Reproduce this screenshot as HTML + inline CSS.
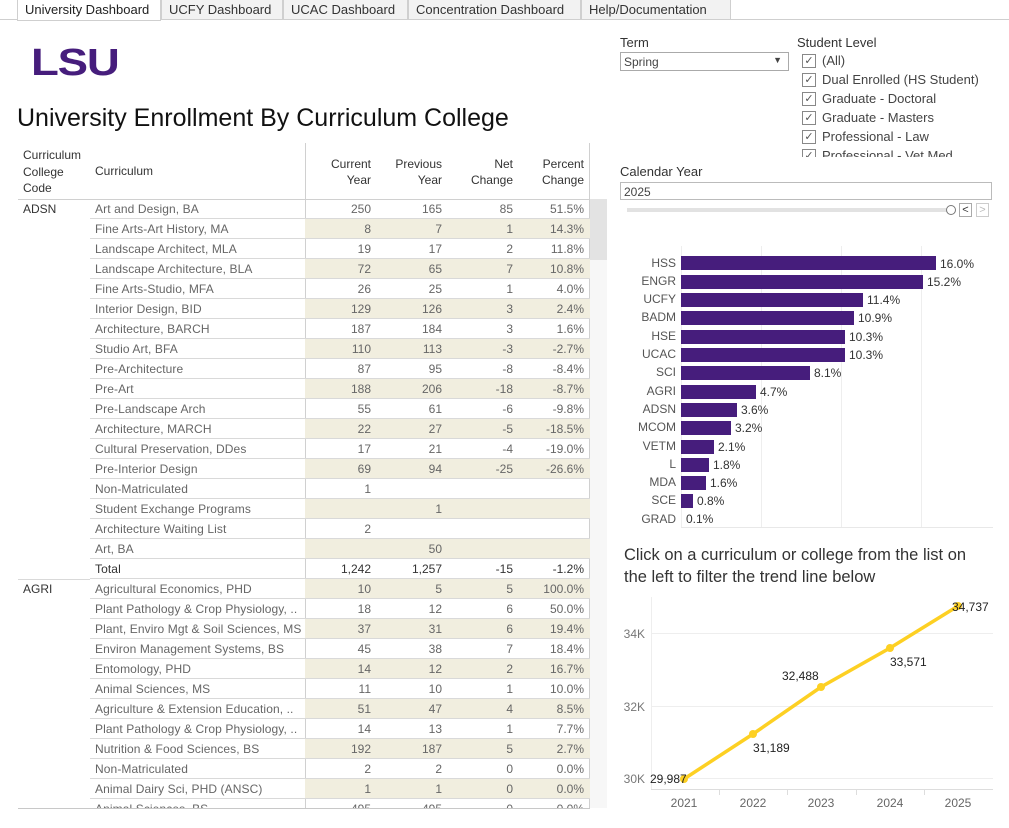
<!DOCTYPE html>
<html><head><meta charset="utf-8"><style>
*{margin:0;padding:0;box-sizing:border-box}
body{width:1009px;height:828px;overflow:hidden;background:#fff;font-family:"Liberation Sans",sans-serif;position:relative;color:#555}
.a{position:absolute;white-space:nowrap}
.tab{position:absolute;top:0;height:20px;border:1px solid #cfcfcf;border-top:none;background:#f2f2f2;font-size:13px;color:#333;padding:2px 0 0 7px}
.row{position:absolute;left:90px;width:500px;height:20px;border-bottom:1px solid #d9d9d9;font-size:12px;color:#666}
.row .sh{position:absolute;left:215px;top:0;width:285px;height:19px;background:#f1eedf}
.row span{position:absolute;top:3px}
.c{left:5px;letter-spacing:0.1px}
.n1{right:219px}.n2{right:148px}.n3{right:77px}.n4{right:6px}
.hd{font-size:12px;color:#333;text-align:right;line-height:16px}
.cb{position:absolute;left:802px;width:14px;height:14px;border:1px solid #888;font-size:11px;line-height:12px;text-align:center;color:#555}
.sl{position:absolute;left:822px;font-size:13px;color:#444}
.bl{position:absolute;font-size:12px;color:#555;text-align:right;width:60px;left:616px}
.bv{position:absolute;font-size:12px;color:#333}
.bar{position:absolute;left:681px;height:14px;background:#461d7c}
</style></head><body>
<div class="a" style="left:0;top:19px;width:1009px;height:1px;background:#cfcfcf"></div>
<div class="tab" style="left:17px;width:144px;background:#fff;height:21px;color:#222">University Dashboard</div>
<div class="tab" style="left:161px;width:122px">UCFY Dashboard</div>
<div class="tab" style="left:283px;width:125px">UCAC Dashboard</div>
<div class="tab" style="left:408px;width:173px">Concentration Dashboard</div>
<div class="tab" style="left:581px;width:150px">Help/Documentation</div>

<div class="a" style="left:31px;top:42px;font-size:38px;font-weight:900;color:#461d7c;letter-spacing:-1px;font-family:'Liberation Sans',sans-serif;transform:scaleX(1.2);transform-origin:left">LSU</div>
<div class="a" style="left:17px;top:104px;font-size:25px;color:#111">University Enrollment By Curriculum College</div>

<!-- table header -->
<div class="a" style="left:23px;top:147px;font-size:12px;color:#333;line-height:16.5px">Curriculum<br>College<br>Code</div>
<div class="a" style="left:95px;top:164px;font-size:12px;color:#333">Curriculum</div>
<div class="a hd" style="right:638px;top:156px">Current<br>Year</div>
<div class="a hd" style="right:567px;top:156px">Previous<br>Year</div>
<div class="a hd" style="right:496px;top:156px">Net<br>Change</div>
<div class="a hd" style="right:425px;top:156px">Percent<br>Change</div>
<div class="a" style="left:305px;top:143px;width:1px;height:665px;background:#d0d0d0"></div>
<div class="a" style="left:589px;top:143px;width:1px;height:665px;background:#d0d0d0"></div>
<div class="a" style="left:18px;top:199px;width:572px;height:1px;background:#d0d0d0"></div>
<div class="a" style="left:590px;top:199px;width:17px;height:61px;background:#e3e3e3"></div>
<div class="a" style="left:590px;top:260px;width:17px;height:548px;background:#f7f7f7"></div>
<div class="a" style="left:23px;top:202px;font-size:12px;color:#333">ADSN</div>
<div class="a" style="left:23px;top:582px;font-size:12px;color:#333">AGRI</div>
<div class="a" style="left:18px;top:579px;width:72px;height:1px;background:#d9d9d9"></div>
<div class="a" style="left:18px;top:808px;width:572px;height:1px;background:#c8c8c8"></div>

<div style="position:absolute;left:0;top:0;width:1009px;height:808px;overflow:hidden">
<div class="row" style="top:199px"><span class="c">Art and Design, BA</span><span class="n1">250</span><span class="n2">165</span><span class="n3">85</span><span class="n4">51.5%</span></div>
<div class="row" style="top:219px"><div class="sh"></div><span class="c">Fine Arts-Art History, MA</span><span class="n1">8</span><span class="n2">7</span><span class="n3">1</span><span class="n4">14.3%</span></div>
<div class="row" style="top:239px"><span class="c">Landscape Architect, MLA</span><span class="n1">19</span><span class="n2">17</span><span class="n3">2</span><span class="n4">11.8%</span></div>
<div class="row" style="top:259px"><div class="sh"></div><span class="c">Landscape Architecture, BLA</span><span class="n1">72</span><span class="n2">65</span><span class="n3">7</span><span class="n4">10.8%</span></div>
<div class="row" style="top:279px"><span class="c">Fine Arts-Studio, MFA</span><span class="n1">26</span><span class="n2">25</span><span class="n3">1</span><span class="n4">4.0%</span></div>
<div class="row" style="top:299px"><div class="sh"></div><span class="c">Interior Design, BID</span><span class="n1">129</span><span class="n2">126</span><span class="n3">3</span><span class="n4">2.4%</span></div>
<div class="row" style="top:319px"><span class="c">Architecture, BARCH</span><span class="n1">187</span><span class="n2">184</span><span class="n3">3</span><span class="n4">1.6%</span></div>
<div class="row" style="top:339px"><div class="sh"></div><span class="c">Studio Art, BFA</span><span class="n1">110</span><span class="n2">113</span><span class="n3">-3</span><span class="n4">-2.7%</span></div>
<div class="row" style="top:359px"><span class="c">Pre-Architecture</span><span class="n1">87</span><span class="n2">95</span><span class="n3">-8</span><span class="n4">-8.4%</span></div>
<div class="row" style="top:379px"><div class="sh"></div><span class="c">Pre-Art</span><span class="n1">188</span><span class="n2">206</span><span class="n3">-18</span><span class="n4">-8.7%</span></div>
<div class="row" style="top:399px"><span class="c">Pre-Landscape Arch</span><span class="n1">55</span><span class="n2">61</span><span class="n3">-6</span><span class="n4">-9.8%</span></div>
<div class="row" style="top:419px"><div class="sh"></div><span class="c">Architecture, MARCH</span><span class="n1">22</span><span class="n2">27</span><span class="n3">-5</span><span class="n4">-18.5%</span></div>
<div class="row" style="top:439px"><span class="c">Cultural Preservation, DDes</span><span class="n1">17</span><span class="n2">21</span><span class="n3">-4</span><span class="n4">-19.0%</span></div>
<div class="row" style="top:459px"><div class="sh"></div><span class="c">Pre-Interior Design</span><span class="n1">69</span><span class="n2">94</span><span class="n3">-25</span><span class="n4">-26.6%</span></div>
<div class="row" style="top:479px"><span class="c">Non-Matriculated</span><span class="n1">1</span></div>
<div class="row" style="top:499px"><div class="sh"></div><span class="c">Student Exchange Programs</span><span class="n2">1</span></div>
<div class="row" style="top:519px"><span class="c">Architecture Waiting List</span><span class="n1">2</span></div>
<div class="row" style="top:539px"><div class="sh"></div><span class="c">Art, BA</span><span class="n2">50</span></div>
<div class="row" style="top:559px;color:#333"><span class="c">Total</span><span class="n1">1,242</span><span class="n2">1,257</span><span class="n3">-15</span><span class="n4">-1.2%</span></div>
<div class="row" style="top:579px"><div class="sh"></div><span class="c">Agricultural Economics, PHD</span><span class="n1">10</span><span class="n2">5</span><span class="n3">5</span><span class="n4">100.0%</span></div>
<div class="row" style="top:599px"><span class="c">Plant Pathology &amp; Crop Physiology, ..</span><span class="n1">18</span><span class="n2">12</span><span class="n3">6</span><span class="n4">50.0%</span></div>
<div class="row" style="top:619px"><div class="sh"></div><span class="c">Plant, Enviro Mgt &amp; Soil Sciences, MS</span><span class="n1">37</span><span class="n2">31</span><span class="n3">6</span><span class="n4">19.4%</span></div>
<div class="row" style="top:639px"><span class="c">Environ Management Systems, BS</span><span class="n1">45</span><span class="n2">38</span><span class="n3">7</span><span class="n4">18.4%</span></div>
<div class="row" style="top:659px"><div class="sh"></div><span class="c">Entomology, PHD</span><span class="n1">14</span><span class="n2">12</span><span class="n3">2</span><span class="n4">16.7%</span></div>
<div class="row" style="top:679px"><span class="c">Animal Sciences, MS</span><span class="n1">11</span><span class="n2">10</span><span class="n3">1</span><span class="n4">10.0%</span></div>
<div class="row" style="top:699px"><div class="sh"></div><span class="c">Agriculture &amp; Extension Education, ..</span><span class="n1">51</span><span class="n2">47</span><span class="n3">4</span><span class="n4">8.5%</span></div>
<div class="row" style="top:719px"><span class="c">Plant Pathology &amp; Crop Physiology, ..</span><span class="n1">14</span><span class="n2">13</span><span class="n3">1</span><span class="n4">7.7%</span></div>
<div class="row" style="top:739px"><div class="sh"></div><span class="c">Nutrition &amp; Food Sciences, BS</span><span class="n1">192</span><span class="n2">187</span><span class="n3">5</span><span class="n4">2.7%</span></div>
<div class="row" style="top:759px"><span class="c">Non-Matriculated</span><span class="n1">2</span><span class="n2">2</span><span class="n3">0</span><span class="n4">0.0%</span></div>
<div class="row" style="top:779px"><div class="sh"></div><span class="c">Animal Dairy Sci, PHD (ANSC)</span><span class="n1">1</span><span class="n2">1</span><span class="n3">0</span><span class="n4">0.0%</span></div>
<div class="row" style="top:799px"><span class="c">Animal Sciences, BS</span><span class="n1">495</span><span class="n2">495</span><span class="n3">0</span><span class="n4">0.0%</span></div>
</div>

<!-- filters -->
<div class="a" style="left:620px;top:35px;font-size:13px;color:#333">Term</div>
<div class="a" style="left:620px;top:52px;width:169px;height:19px;border:1px solid #aaa;font-size:12px;color:#444;padding:2px 3px">Spring<span style="position:absolute;right:6px;top:2px;font-size:9px">▼</span></div>
<div class="a" style="left:797px;top:35px;font-size:13px;color:#333">Student Level</div>
<div style="position:absolute;left:0;top:0;width:1009px;height:157px;overflow:hidden">
<div class="cb" style="top:54px">✓</div><div class="sl" style="top:53px">(All)</div>
<div class="cb" style="top:73px">✓</div><div class="sl" style="top:72px">Dual Enrolled (HS Student)</div>
<div class="cb" style="top:92px">✓</div><div class="sl" style="top:91px">Graduate - Doctoral</div>
<div class="cb" style="top:111px">✓</div><div class="sl" style="top:110px">Graduate - Masters</div>
<div class="cb" style="top:130px">✓</div><div class="sl" style="top:129px">Professional - Law</div>
<div class="cb" style="top:149px">✓</div><div class="sl" style="top:148px">Professional - Vet Med</div>
</div>
<div class="a" style="left:620px;top:164px;font-size:13px;color:#333">Calendar Year</div>
<div class="a" style="left:620px;top:182px;width:372px;height:18px;border:1px solid #bbb;font-size:12px;color:#444;padding:2px 3px">2025</div>
<div class="a" style="left:627px;top:208px;width:325px;height:4px;background:#e2e2e2"></div>
<div class="a" style="left:946px;top:205px;width:10px;height:10px;border:1px solid #777;border-radius:50%;background:#fff"></div>
<div class="a" style="left:959px;top:203px;width:13px;height:14px;border:1px solid #aaa;font-size:11px;line-height:12px;text-align:center;color:#333">&lt;</div>
<div class="a" style="left:976px;top:203px;width:13px;height:14px;border:1px solid #ccc;font-size:11px;line-height:12px;text-align:center;color:#bbb">&gt;</div>

<!-- bar chart -->
<div class="a" style="left:761px;top:246px;width:1px;height:281px;background:#eee"></div>
<div class="a" style="left:841px;top:246px;width:1px;height:281px;background:#eee"></div>
<div class="a" style="left:921px;top:246px;width:1px;height:281px;background:#eee"></div>
<div class="a" style="left:681px;top:246px;width:1px;height:281px;background:#eee"></div>
<div class="a" style="left:681px;top:527px;width:312px;height:1px;background:#e8e8e8"></div>
<div class="bl" style="top:256px">HSS</div><div class="bar" style="top:256px;width:255px"></div><div class="bv" style="left:940px;top:257px">16.0%</div>
<div class="bl" style="top:274px">ENGR</div><div class="bar" style="top:275px;width:242px"></div><div class="bv" style="left:927px;top:275px">15.2%</div>
<div class="bl" style="top:292px">UCFY</div><div class="bar" style="top:293px;width:182px"></div><div class="bv" style="left:867px;top:293px">11.4%</div>
<div class="bl" style="top:310px">BADM</div><div class="bar" style="top:311px;width:173px"></div><div class="bv" style="left:858px;top:311px">10.9%</div>
<div class="bl" style="top:329px">HSE</div><div class="bar" style="top:330px;width:164px"></div><div class="bv" style="left:849px;top:330px">10.3%</div>
<div class="bl" style="top:347px">UCAC</div><div class="bar" style="top:348px;width:164px"></div><div class="bv" style="left:849px;top:348px">10.3%</div>
<div class="bl" style="top:365px">SCI</div><div class="bar" style="top:366px;width:129px"></div><div class="bv" style="left:814px;top:366px">8.1%</div>
<div class="bl" style="top:384px">AGRI</div><div class="bar" style="top:385px;width:75px"></div><div class="bv" style="left:760px;top:385px">4.7%</div>
<div class="bl" style="top:402px">ADSN</div><div class="bar" style="top:403px;width:56px"></div><div class="bv" style="left:741px;top:403px">3.6%</div>
<div class="bl" style="top:420px">MCOM</div><div class="bar" style="top:421px;width:50px"></div><div class="bv" style="left:735px;top:421px">3.2%</div>
<div class="bl" style="top:439px">VETM</div><div class="bar" style="top:440px;width:33px"></div><div class="bv" style="left:718px;top:440px">2.1%</div>
<div class="bl" style="top:457px">L</div><div class="bar" style="top:458px;width:28px"></div><div class="bv" style="left:713px;top:458px">1.8%</div>
<div class="bl" style="top:475px">MDA</div><div class="bar" style="top:476px;width:25px"></div><div class="bv" style="left:710px;top:476px">1.6%</div>
<div class="bl" style="top:493px">SCE</div><div class="bar" style="top:494px;width:12px"></div><div class="bv" style="left:697px;top:494px">0.8%</div>
<div class="bl" style="top:512px">GRAD</div><div class="bv" style="left:686px;top:512px">0.1%</div>

<!-- line chart -->
<div class="a" style="left:624px;top:544px;font-size:16.5px;color:#333;line-height:22px">Click on a curriculum or college from the list on<br>the left to filter the trend line below</div>
<svg class="a" style="left:0;top:0" width="1009" height="828">
<g stroke="#eee" stroke-width="1">
<line x1="651" y1="633.5" x2="993" y2="633.5"/><line x1="651" y1="706.5" x2="993" y2="706.5"/><line x1="651" y1="778.5" x2="993" y2="778.5"/>
<line x1="651.5" y1="597" x2="651.5" y2="789"/>
</g>
<line x1="651" y1="789.5" x2="993" y2="789.5" stroke="#ddd"/>
<g stroke="#ddd"><line x1="719.5" y1="789" x2="719.5" y2="795"/><line x1="787.5" y1="789" x2="787.5" y2="795"/><line x1="856.5" y1="789" x2="856.5" y2="795"/><line x1="924.5" y1="789" x2="924.5" y2="795"/></g>
<polyline points="684,779 753,734 821,687 890,648 958,606" fill="none" stroke="#fdd023" stroke-width="3.5"/>
<g fill="#fdd023"><circle cx="684" cy="779" r="4"/><circle cx="753" cy="734" r="4"/><circle cx="821" cy="687" r="4"/><circle cx="890" cy="648" r="4"/><circle cx="958" cy="606" r="4"/></g>
<g font-family="Liberation Sans,sans-serif" font-size="12" fill="#222">
<text x="650" y="783">29,987</text><text x="753" y="752">31,189</text><text x="782" y="680">32,488</text><text x="890" y="666">33,571</text><text x="952" y="611">34,737</text>
</g>
<g font-family="Liberation Sans,sans-serif" font-size="12" fill="#777" text-anchor="end">
<text x="645" y="638">34K</text><text x="645" y="711">32K</text><text x="645" y="783">30K</text>
</g>
<g font-family="Liberation Sans,sans-serif" font-size="12" fill="#666" text-anchor="middle">
<text x="684" y="807">2021</text><text x="753" y="807">2022</text><text x="821" y="807">2023</text><text x="890" y="807">2024</text><text x="958" y="807">2025</text>
</g>
</svg>
</body></html>
